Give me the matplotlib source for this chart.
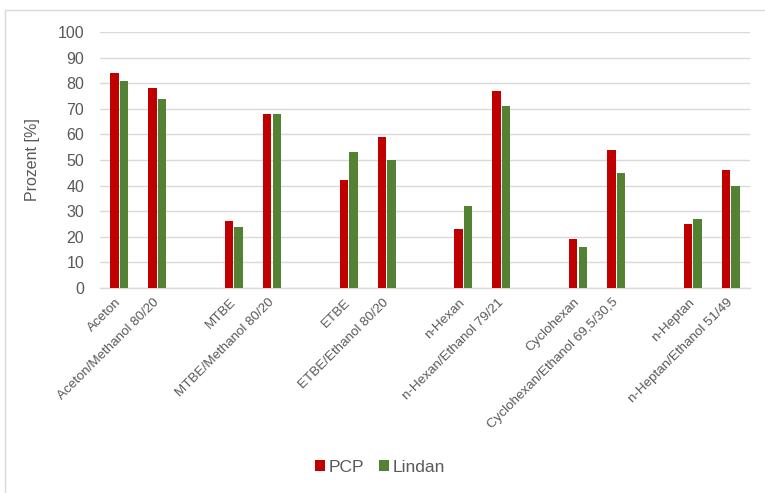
import matplotlib
matplotlib.use("Agg")
import matplotlib.pyplot as plt
from matplotlib.patches import Rectangle, Patch
import numpy as np

categories = ["Aceton", "Aceton/Methanol 80/20",
              "MTBE", "MTBE/Methanol 80/20",
              "ETBE", "ETBE/Ethanol 80/20",
              "n-Hexan", "n-Hexan/Ethanol 79/21",
              "Cyclohexan", "Cyclohexan/Ethanol 69,5/30,5",
              "n-Heptan", "n-Heptan/Ethanol 51/49"]
pcp = [84, 78, 26, 68, 42, 59, 23, 77, 19, 54, 25, 46]
lindan = [81, 74, 24, 68, 53, 50, 32, 71, 16, 45, 27, 40]
yticks = [0, 10, 20, 30, 40, 50, 60, 70, 80, 90, 100]

RED = "#C00000"
GREEN = "#548235"
TXT = "#595959"
GRID = "#D9D9D9"

plt.rcParams['font.family'] = ['Liberation Sans', 'DejaVu Sans']

W, H = 765, 493
fig = plt.figure(figsize=(W / 100, H / 100), dpi=100)
fig.patch.set_facecolor("white")

# outer chart border
fig.patches.append(Rectangle((4.5 / W, -0.1), 1.2, 1 - 10.5 / H + 0.1,
                             transform=fig.transFigure, fill=False,
                             edgecolor="#D9D9D9", linewidth=1.0))

ax = fig.add_axes([100 / W, 1 - 288 / H, 650 / W, 256 / H])

# positions: pairs separated by an empty slot
pos = np.array([i + i // 2 for i in range(len(categories))], dtype=float)
bw = 0.22
off = 0.125
ax.bar(pos - off, pcp, width=bw, color=RED, zorder=3, label="PCP")
ax.bar(pos + off, lindan, width=bw, color=GREEN, zorder=3, label="Lindan")

ax.set_xlim(-0.5, pos[-1] + 0.5)
ax.set_ylim(0, 100)
ax.set_yticks(yticks)
ax.set_yticklabels([str(v) for v in yticks], fontsize=11.5, color=TXT)
ax.tick_params(axis="y", length=0, pad=11.5)
ax.grid(axis="y", color=GRID, linewidth=1.0, zorder=0)
ax.set_axisbelow(True)

ax.set_xticks(pos)
ax.set_xticklabels(categories, rotation=45, ha="right", va="center",
                   rotation_mode="anchor", fontsize=9.6, color=TXT)
ax.tick_params(axis="x", length=0, pad=9)

for s in ["top", "right", "left"]:
    ax.spines[s].set_visible(False)
ax.spines["bottom"].set_color(GRID)
ax.spines["bottom"].set_linewidth(1.0)

ax.set_ylabel("Prozent [%]", fontsize=11.5, color=TXT)
ax.yaxis.set_label_coords(-(100 - 40) / 650, 0.5)

handles = [Patch(facecolor=RED, label="PCP"), Patch(facecolor=GREEN, label="Lindan")]
leg = fig.legend(handles=handles, loc="center", bbox_to_anchor=(380 / W, 1 - 467 / H),
                 ncol=2, frameon=False, fontsize=12.5, handlelength=0.55,
                 handleheight=0.55, handletextpad=0.2, columnspacing=0.9)
for t in leg.get_texts():
    t.set_color(TXT)

fig.savefig("out.png", dpi=100, facecolor="white")
